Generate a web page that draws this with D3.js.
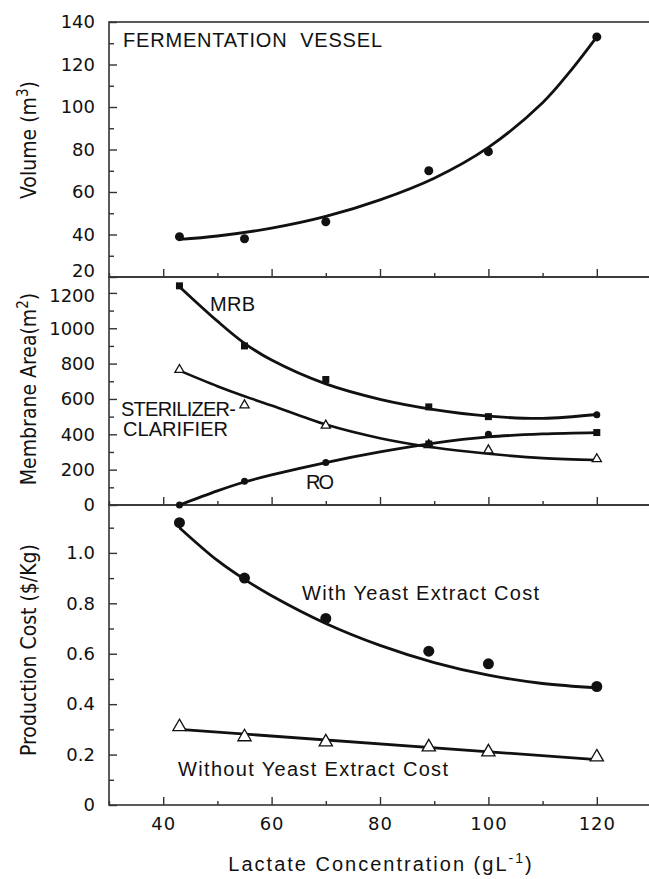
<!DOCTYPE html>
<html>
<head>
<meta charset="utf-8">
<script src="https://cdn.jsdelivr.net/npm/d3@7"></script>
<style>
  body { margin: 0; background: #fff; }
  svg { display: block; }
  .tick text { font-family: "DejaVu Sans", sans-serif; font-size: 18px; fill: #111; }
  .note { font-family: "Liberation Sans", Arial, sans-serif; font-size: 20px; fill: #111; }
  .ytitle { font-family: "Liberation Sans Narrow", "DejaVu Sans Condensed", sans-serif; font-size: 21px; fill: #111; }
</style>
</head>
<body>
<div class="js-chart"></div>
<script>
'use strict';

// measured lactate concentrations (g/L)
const lactate = [43, 55, 70, 89, 100, 120];

// top panel: fermentation vessel volume (m3)
const volume = [39, 38, 46, 70, 79, 133];
const volumeFitX = [43, 50, 60, 70, 80, 90, 100, 110, 115, 120];
const volumeFit = [37.7, 39.3, 43.0, 48.5, 56.3, 66.5, 81, 102, 116.5, 133];

// middle panel: membrane area (m2)
const mrb = [1240, 900, 710, 555, 500, 510];
const mrbMarks = ['s', 's', 's', 's', 's', 'c'];
const mrbFitX = [43, 50, 55, 60, 70, 80, 90, 100, 110, 120];
const mrbFit = [1235, 1040, 915, 820, 685, 598, 540, 503, 490, 512];

const sterilizer = [765, 565, 450, 340, 310, 260];
const sterFitX = [43, 50, 55, 60, 70, 80, 90, 100, 110, 120];
const sterFit = [760, 672, 615, 563, 455, 378, 325, 290, 265, 255];

const ro = [0, 135, 240, 345, 400, 410];
const roMarks = ['c', 'c', 'c', 's', 'c', 's'];
const roFitX = [43, 50, 55, 60, 70, 80, 90, 100, 110, 120];
const roFit = [0, 80, 130, 170, 240, 300, 350, 385, 402, 410];

// bottom panel: production cost ($/kg)
const withYeast = [1.12, 0.90, 0.74, 0.61, 0.56, 0.47];
const withFitX = [43, 50, 55, 60, 70, 80, 90, 100, 110, 120];
const withFit = [1.10, 0.97, 0.895, 0.83, 0.72, 0.633, 0.565, 0.515, 0.482, 0.465];

const withoutYeast = [0.31, 0.27, 0.25, 0.23, 0.21, 0.19];
const withoutFitX = [43, 120];
const withoutFit = [0.30, 0.18];

// ticks
const xMajor = [40, 60, 80, 100, 120];
const xMinor = [30, 50, 70, 90, 110, 130];
const volMajor = [20, 40, 60, 80, 100, 120, 140];
const volMinor = [30, 50, 70, 90, 110, 130];
const areaMajor = [0, 200, 400, 600, 800, 1000, 1200];
const areaMinor = [100, 300, 500, 700, 900, 1100];
const costMajor = [0, 0.2, 0.4, 0.6, 0.8, 1.0];
const costMinor = [0.1, 0.3, 0.5, 0.7, 0.9, 1.1];

const svgWidth = 649;
const svgHeight = 879;
const left = 109, right = 651;

const x = d3.scaleLinear().domain([30, 130]).range([left, right]);
const yVol = d3.scaleLinear().domain([20, 140]).range([277, 22]);
const yArea = d3.scaleLinear().domain([0, 1290]).range([505, 277]);
const yCost = d3.scaleLinear().domain([0, 1.19]).range([805, 505]);

const svg = d3.select('.js-chart')
  .append('svg')
  .attr('width', svgWidth)
  .attr('height', svgHeight);

const ink = '#111';

function drawPanel(y, major, minor, fmt, showX) {
  const top = y.range()[1], bottom = y.range()[0];
  // frame
  svg.append('rect')
    .attr('x', left).attr('y', top)
    .attr('width', right - left).attr('height', bottom - top)
    .attr('fill', 'none').attr('stroke', '#333').attr('stroke-width', 1.6);

  // y ticks (inward)
  const ya = svg.append('g').attr('class', 'yaxis').attr('transform', `translate(${left},0)`)
    .call(d3.axisLeft(y).tickValues(major).tickSize(-8).tickPadding(14).tickFormat(fmt));
  const ym = svg.append('g').attr('transform', `translate(${left},0)`)
    .call(d3.axisLeft(y).tickValues(minor).tickSize(-5).tickFormat(''));
  // x ticks (inward, pointing up)
  const xa = svg.append('g').attr('transform', `translate(0,${bottom})`)
    .call(d3.axisBottom(x).tickValues(xMajor).tickSize(-8).tickPadding(12)
      .tickFormat(showX ? d3.format('d') : ''));
  const xm = svg.append('g').attr('transform', `translate(0,${bottom})`)
    .call(d3.axisBottom(x).tickValues(xMinor).tickSize(-4).tickFormat(''));

  [ya, ym, xa, xm].forEach(function(g) {
    g.select('.domain').remove();
    g.selectAll('.tick line').attr('stroke', '#333').attr('stroke-width', 1.4);
  });
  xa.selectAll('.tick text').attr('letter-spacing', 1).attr('font-size', 20);
  return ya;
}

const volAxis = drawPanel(yVol, volMajor, volMinor, d3.format('d'), false);
const areaAxis = drawPanel(yArea, areaMajor, areaMinor, d3.format('d'), false);
drawPanel(yCost, costMajor, costMinor, function(d) { return d === 0 ? '0' : d3.format('.1f')(d); }, true);

// the "20" and "1200" labels sit close together at the panel join
volAxis.selectAll('.tick').filter(function(d) { return d === 20; })
  .select('text').attr('dy', '-0.05em');
areaAxis.selectAll('.tick').filter(function(d) { return d === 1200; })
  .select('text').attr('dy', '0.5em');

function fitLine(xs, ys, y, width) {
  const pts = xs.map(function(d, i) { return [x(d), y(ys[i])]; });
  svg.append('path')
    .attr('d', d3.line().curve(d3.curveCatmullRom.alpha(0.5))(pts))
    .attr('fill', 'none')
    .attr('stroke', ink)
    .attr('stroke-width', width);
}

function markers(vals, marks, y, size) {
  vals.forEach(function(v, i) {
    const cx = x(lactate[i]), cy = y(v);
    const m = marks[i];
    if (m === 'c') {
      svg.append('circle').attr('cx', cx).attr('cy', cy).attr('r', size / 2).attr('fill', ink);
    } else if (m === 's') {
      svg.append('rect').attr('x', cx - size / 2).attr('y', cy - size / 2)
        .attr('width', size).attr('height', size).attr('fill', ink);
    } else {
      svg.append('path')
        .attr('d', d3.symbol(d3.symbolTriangle, size * size * 0.45)())
        .attr('transform', `translate(${cx},${cy})`)
        .attr('fill', '#fff').attr('stroke', ink).attr('stroke-width', 1.3);
    }
  });
}

// top panel
fitLine(volumeFitX, volumeFit, yVol, 2.8);
markers(volume, volume.map(function() { return 'c'; }), yVol, 9);

// middle panel
fitLine(mrbFitX, mrbFit, yArea, 2.8);
fitLine(sterFitX, sterFit, yArea, 2.6);
fitLine(roFitX, roFit, yArea, 2.8);
markers(mrb, mrbMarks, yArea, 7);
markers(sterilizer, sterilizer.map(function() { return 't'; }), yArea, 9);
markers(ro, roMarks, yArea, 7);

// bottom panel
fitLine(withFitX, withFit, yCost, 2.8);
fitLine(withoutFitX, withoutFit, yCost, 2.8);
markers(withYeast, withYeast.map(function() { return 'c'; }), yCost, 11);
markers(withoutYeast, withoutYeast.map(function() { return 't'; }), yCost, 13);

// annotations, stretched to the widths seen in the figure
function note(tx, ty, str, len) {
  svg.append('text').attr('class', 'note')
    .attr('x', tx).attr('y', ty)
    .attr('textLength', len).attr('lengthAdjust', 'spacing')
    .text(str);
}
note(123, 47, 'FERMENTATION\u00a0\u00a0VESSEL', 259);
note(210, 311, 'MRB', 45);
note(121, 416, 'STERILIZER-', 115);
note(123, 436, 'CLARIFIER', 105);
note(306, 489, 'RO', 28);
note(302, 600, 'With Yeast Extract Cost', 237);
note(178, 776, 'Without Yeast Extract Cost', 270);

// x axis title
const xt = svg.append('text').attr('class', 'note')
  .attr('x', 381).attr('y', 871).attr('text-anchor', 'middle')
  .attr('letter-spacing', 2);
xt.append('tspan').text('Lactate Concentration (gL');
xt.append('tspan').attr('font-size', 14).attr('dy', -8).text('-1');
xt.append('tspan').attr('dy', 8).text(')');

// y axis titles
function yTitle(cy, main, sup, tail) {
  const t = svg.append('text').attr('class', 'ytitle')
    .attr('transform', `translate(36,${cy}) rotate(-90)`)
    .attr('text-anchor', 'middle');
  t.append('tspan').text(main);
  if (sup) {
    t.append('tspan').attr('font-size', 15).attr('dy', -8).text(sup);
    t.append('tspan').attr('dy', 8).text(tail);
  }
}
yTitle(140, 'Volume (m', '3', ')');
yTitle(389, 'Membrane Area(m', '2', ')');
yTitle(650, 'Production Cost ($/Kg)');
</script>
</body>
</html>
